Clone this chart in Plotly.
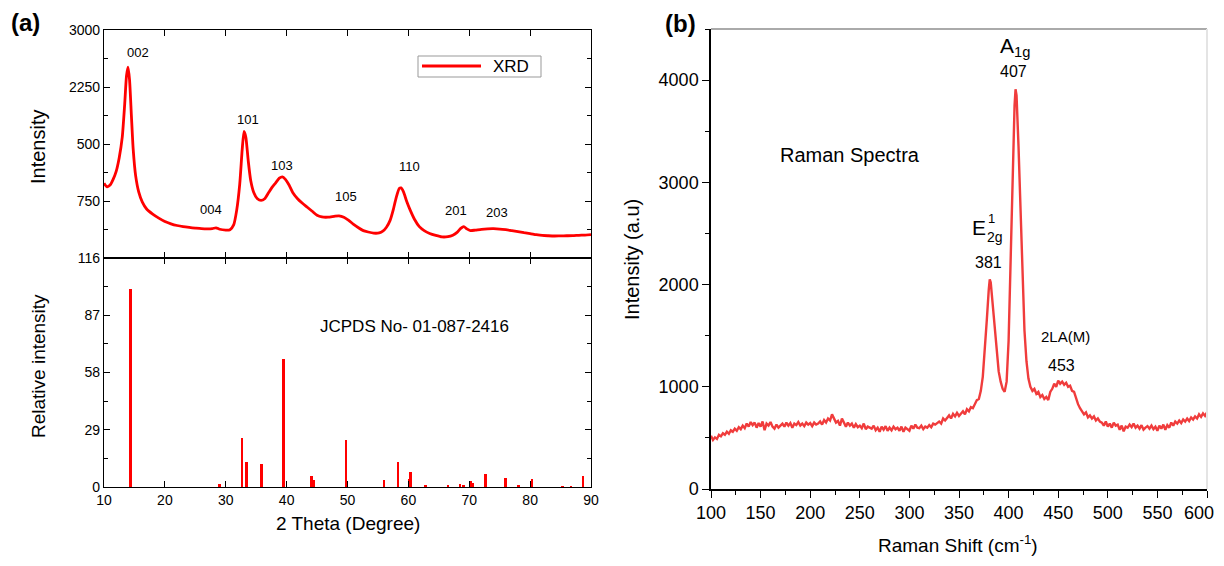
import plotly.graph_objects as go

# page window is 1224x566; the html body adds an 8px margin, so the figure is sized to fit inside it
WIN_W, WIN_H = 1224, 566
OFF = 8
W, H = WIN_W - 2 * OFF, WIN_H - 2 * OFF

# ---------------- (a) XRD data (display units: 0 = bottom of panel, 2000 = top) ----------------
xrd_theta = [10.0, 10.5, 11.0, 11.5, 12.0, 12.5, 13.0, 13.4, 13.7, 13.95, 14.2, 14.5, 14.8, 15.2, 15.7,
             16.3, 17.0, 18.0, 19.0, 20.0, 21.0, 22.0, 23.0, 24.0, 25.0, 26.0, 27.0, 27.8, 28.4, 29.0,
             30.0, 30.7, 31.3, 31.8, 32.3, 32.7, 33.0, 33.3, 33.7, 34.1, 34.6, 35.2, 35.8, 36.4, 37.0,
             37.6, 38.2, 38.8, 39.3, 39.8, 40.4, 41.0, 41.8, 42.6, 43.4, 44.2, 45.0, 45.8, 46.8, 47.8,
             48.6, 49.4, 50.2, 51.0, 51.8, 52.6, 53.4, 54.3, 55.2, 55.8, 56.4, 57.0, 57.5, 58.0, 58.5,
             58.8, 59.2, 59.7, 60.3, 61.0, 61.8, 62.6, 63.5, 64.5, 65.5, 66.5, 67.3, 68.0, 68.6, 69.1,
             69.6, 70.2, 71.0, 72.0, 73.0, 74.0, 75.0, 76.0, 77.0, 78.0, 79.0, 80.0, 81.0, 82.0, 83.0,
             84.0, 85.0, 86.0, 87.0, 88.0, 89.0, 90.0]
xrd_intensity = [655, 625, 640, 690, 760, 880, 1060, 1350, 1600, 1675, 1560, 1250, 950, 720, 580,
                 490, 430, 385, 350, 320, 300, 285, 275, 268, 262, 257, 255, 258, 265, 252,
                 245, 248, 290, 420, 650, 950, 1110, 1060, 850, 680, 575, 520, 505, 520, 570,
                 620, 660, 700, 712, 690, 640, 575, 520, 480, 445, 410, 375, 360, 358, 365,
                 370, 358, 330, 295, 265, 240, 228, 218, 220, 235, 270, 330, 420, 530, 610,
                 615, 580, 500, 420, 340, 275, 240, 215, 198, 185, 187, 200, 225, 260, 276,
                 255, 240, 245, 252, 256, 257, 254, 248, 240, 232, 222, 214, 205, 198, 195,
                 193, 194, 195, 196, 199, 201, 205]
xrd_tickvals = [0, 500, 1000, 1500, 2000]
xrd_ticktext = [" ", "750", "500", "2250", "3000"]

hkl_labels = ["002", "004", "101", "103", "105", "110", "201", "203"]
hkl_x = [15.6, 27.6, 33.7, 39.2, 49.8, 60.2, 67.8, 74.6]
hkl_y = [1800, 424, 1213, 810, 538, 804, 421, 398]

# ---------------- (a) JCPDS reference sticks ----------------
jcpds_theta = [14.39, 29.0, 32.65, 33.46, 35.85, 39.49, 44.13, 44.4, 49.77, 55.98, 58.3, 60.1, 60.4,
               62.8, 66.5, 68.5, 69.0, 70.2, 70.5, 72.7, 76.0, 78.1, 80.3, 85.3, 86.7, 88.7]
jcpds_rel = [100.3, 1.5, 24.8, 12.8, 11.7, 64.8, 5.4, 3.5, 23.8, 3.5, 12.8, 4.1, 7.8,
             1.0, 0.7, 1.7, 1.0, 3.0, 2.0, 6.8, 4.4, 1.0, 4.1, 0.5, 0.3, 5.4]
jcpds_ticks = [0, 29, 58, 87, 116]
theta_ticks = [10, 20, 30, 40, 50, 60, 70, 80, 90]

# ---------------- (b) Raman data ----------------
raman_shift = [100, 102, 104, 106, 108, 110, 112, 114, 116, 118, 120, 122, 124, 126, 128, 130, 132, 134,
               136, 138, 140, 142, 144, 146, 148, 150, 152, 154, 156, 158, 160, 162, 164, 166, 168, 170,
               172, 174, 176, 178, 180, 182, 184, 186, 188, 190, 192, 194, 196, 198, 200, 202, 204, 206,
               208, 210, 212, 214, 216, 218, 220, 222, 224, 226, 228, 230, 232, 234, 236, 238, 240, 242,
               244, 246, 248, 250, 252, 254, 256, 258, 260, 262, 264, 266, 268, 270, 272, 274, 276, 278,
               280, 282, 284, 286, 288, 290, 292, 294, 296, 298, 300, 302, 304, 306, 308, 310, 312, 314,
               316, 318, 320, 322, 324, 326, 328, 330, 332, 334, 336, 338, 340, 342, 344, 346, 348, 350,
               352, 354, 356, 358, 360, 362, 364, 366, 368, 370, 372, 374, 376, 378, 380, 381, 382, 384,
               386, 388, 390, 392, 394, 396, 398, 400, 402, 404, 406, 407, 408, 410, 412, 414, 416, 418,
               420, 422, 424, 426, 428, 430, 432, 434, 436, 438, 440, 442, 444, 446, 448, 450, 452, 454,
               456, 458, 460, 462, 464, 466, 468, 470, 472, 474, 476, 478, 480, 482, 484, 486, 488, 490,
               492, 494, 496, 498, 500, 502, 504, 506, 508, 510, 512, 514, 516, 518, 520, 522, 524, 526,
               528, 530, 532, 534, 536, 538, 540, 542, 544, 546, 548, 550, 552, 554, 556, 558, 560, 562,
               564, 566, 568, 570, 572, 574, 576, 578, 580, 582, 584, 586, 588, 590, 592, 594, 596, 598, 600]
raman_intensity = [520, 480, 505, 490, 530, 515, 545, 530, 560, 540, 575, 560, 590, 570, 605, 585, 620, 595,
                   640, 610, 655, 625, 650, 600, 645, 610, 660, 575, 640, 620, 655, 610, 590, 630, 600, 625,
                   640, 610, 650, 620, 645, 600, 640, 625, 655, 620, 640, 615, 650, 630, 645, 615, 650, 630,
                   640, 660, 630, 675, 650, 690, 670, 730, 680, 650, 665, 620, 690, 640, 610, 650, 620, 640,
                   600, 635, 605, 620, 595, 640, 585, 610, 600, 590, 620, 575, 600, 560, 610, 580, 615, 570,
                   600, 575, 610, 585, 600, 570, 610, 560, 600, 585, 570, 620, 590, 630, 600, 595, 620, 585,
                   610, 600, 625, 605, 640, 630, 650, 660, 640, 690, 670, 700, 720, 690, 735, 710, 745, 715,
                   740, 760, 730, 780, 760, 800, 790, 840, 870, 880, 960, 1100, 1350, 1650, 1950, 2050, 2020, 1800,
                   1550, 1300, 1150, 1050, 980, 950, 1050, 1450, 2200, 3100, 3750, 3910, 3850, 3350, 2700, 2050, 1550, 1250,
                   1080, 1000, 960, 980, 930, 950, 900, 920, 880, 900, 870, 950, 980, 1030, 1000, 1060, 1030, 1050,
                   1020, 1040, 1000, 1010, 960, 950, 880, 830, 790, 760, 730, 750, 700, 720, 690, 710, 670, 690,
                   660, 650, 620, 660, 610, 640, 600, 650, 620, 630, 580, 620, 565, 610, 600, 630, 605, 640,
                   600, 620, 590, 625, 580, 600, 615, 590, 620, 585, 610, 570, 620, 590, 630, 580, 625, 600,
                   650, 620, 660, 640, 670, 645, 680, 660, 690, 665, 700, 680, 710, 690, 730, 705, 740, 715, 750]
raman_xticks = [100, 150, 200, 250, 300, 350, 400, 450, 500, 550, 600]
raman_xticktext = ["100", "150", "200", "250", "300", "350", "400", "450", "500", "550", ""]
raman_yticks = [0, 1000, 2000, 3000, 4000]


def px(x):
    return (x - OFF) / W


def py(y):
    return 1 - (y - OFF) / H


ARIAL = "Liberation Sans, Arial, sans-serif"
NARROW = "Liberation Sans Narrow, Arial Narrow, Liberation Sans, Arial, sans-serif"

ax_x = [px(104), px(591)]
top_y = [py(258), py(30)]
bot_y = [py(487), py(258)]
rb_x = [px(711), px(1207)]
rb_y = [py(489), py(29)]

fig = go.Figure()

fig.add_trace(go.Scatter(x=xrd_theta, y=xrd_intensity, mode="lines", xaxis="x", yaxis="y",
                         line=dict(color="#ff0000", width=2.8, shape="spline", smoothing=0.6),
                         showlegend=False))
fig.add_trace(go.Bar(x=jcpds_theta, y=jcpds_rel, xaxis="x2", yaxis="y2", width=0.45,
                     marker=dict(color="#ff0000", line=dict(width=0)), showlegend=False))
fig.add_trace(go.Scatter(x=raman_shift, y=raman_intensity, mode="lines", xaxis="x3", yaxis="y3",
                         line=dict(color="#f03c3c", width=2.4), showlegend=False))

common_a = dict(showline=True, linecolor="black", linewidth=1.3, mirror="ticks", ticks="inside",
                ticklen=6, tickwidth=1.2, tickcolor="black", showgrid=False, zeroline=False,
                automargin=False, ticklabeloverflow="allow",
                tickfont=dict(family=ARIAL, size=14, color="black"))

fig.update_layout(
    width=W, height=H, margin=dict(l=0, r=0, t=0, b=0, autoexpand=False),
    paper_bgcolor="white", plot_bgcolor="white", bargap=0,
    xaxis=dict(domain=ax_x, anchor="y", range=[10, 90], tickvals=theta_ticks,
               showticklabels=False, **common_a),
    yaxis=dict(domain=top_y, anchor="x", range=[0, 2000], tickvals=xrd_tickvals, ticktext=xrd_ticktext,
               minor=dict(ticks="inside", ticklen=4, tickcolor="black", dtick=250, tick0=0),
               **common_a),
    xaxis2=dict(domain=ax_x, anchor="y2", range=[10, 90], tickvals=theta_ticks, **common_a),
    yaxis2=dict(domain=bot_y, anchor="x2", range=[0, 116], tickvals=jcpds_ticks,
                minor=dict(ticks="inside", ticklen=4, tickcolor="black", dtick=14.5, tick0=0),
                **common_a),
    xaxis3=dict(domain=rb_x, anchor="y3", range=[100, 600], tickvals=raman_xticks,
                ticktext=raman_xticktext,
                showline=True, linecolor="black", linewidth=1.5, ticks="outside", ticklen=7,
                tickwidth=1.3, tickcolor="black", showgrid=False, zeroline=False, automargin=False,
                ticklabeloverflow="allow",
                minor=dict(ticks="outside", ticklen=4, tickcolor="black", dtick=25, tick0=100),
                tickfont=dict(family=NARROW, size=18, color="black")),
    yaxis3=dict(domain=rb_y, anchor="x3", range=[0, 4500], tickvals=raman_yticks,
                showline=True, linecolor="black", linewidth=1.5, ticks="outside", ticklen=7,
                tickwidth=1.3, tickcolor="black", showgrid=False, zeroline=False, automargin=False,
                ticklabeloverflow="allow",
                minor=dict(ticks="outside", ticklen=4, tickcolor="black", dtick=500, tick0=0),
                tickfont=dict(family=NARROW, size=18, color="black")),
)

shapes = [
    # XRD legend box
    dict(type="rect", xref="paper", yref="paper", x0=px(418), x1=px(541), y0=py(77), y1=py(56),
         line=dict(color="#999999", width=1), fillcolor="white"),
    dict(type="line", xref="paper", yref="paper", x0=px(422), x1=px(481), y0=py(66), y1=py(66),
         line=dict(color="#ff0000", width=2.8)),
    # Raman frame (top & right)
    dict(type="line", xref="paper", yref="paper", x0=rb_x[0], x1=rb_x[1], y0=rb_y[1], y1=rb_y[1],
         line=dict(color="#aaaaaa", width=2)),
    dict(type="line", xref="paper", yref="paper", x0=rb_x[1], x1=rb_x[1], y0=rb_y[0], y1=rb_y[1],
         line=dict(color="#e4e4e4", width=2)),
]
fig.update_layout(shapes=shapes)

ann = []


def A(text, x, y, size, family=ARIAL, angle=0, bold=False, xanchor="center"):
    t = f"<b>{text}</b>" if bold else text
    ann.append(dict(text=t, x=px(x), y=py(y), xref="paper", yref="paper", showarrow=False,
                    xanchor=xanchor, yanchor="middle", textangle=angle,
                    font=dict(family=family, size=size, color="black")))


A("(a)", 25, 23, 24, bold=True)
A("(b)", 680, 24, 24, bold=True)
A("Intensity", 38, 147, 20, angle=-90)
A("Relative intensity", 38, 366, 19, angle=-90)
A("2 Theta (Degree)", 348, 523, 19)
A("JCPDS No- 01-087-2416", 414, 326, 17)
A("XRD", 511, 66, 17)

for lab, hx, hy in zip(hkl_labels, hkl_x, hkl_y):
    ann.append(dict(text=lab, x=hx, y=hy, xref="x", yref="y", showarrow=False,
                    font=dict(family=ARIAL, size=13, color="black")))

# last x tick label of (b), kept inside the page edge
A("600", 1216, 513, 18, family=NARROW, xanchor="right")

A("Raman Spectra", 850, 155, 20, family=NARROW)
A("A<sub>1g</sub>", 1015, 47, 21, family=NARROW)
A("407", 1013, 72, 16, family=NARROW)
A("E", 979, 227, 21, family=NARROW)
A("1", 991, 219, 13, family=NARROW)
A("2g", 995, 237, 14, family=NARROW)
A("381", 988, 262, 16, family=NARROW)
A("2LA(M)", 1065, 336, 15, family=NARROW)
A("453", 1061, 365, 16, family=NARROW)
A("Intensity (a.u)", 632, 260, 20, angle=-90)
A("Raman Shift (cm<sup>-1</sup>)", 958, 544, 19, family=NARROW)

fig.update_layout(annotations=ann)

fig.write_html("out.html")
